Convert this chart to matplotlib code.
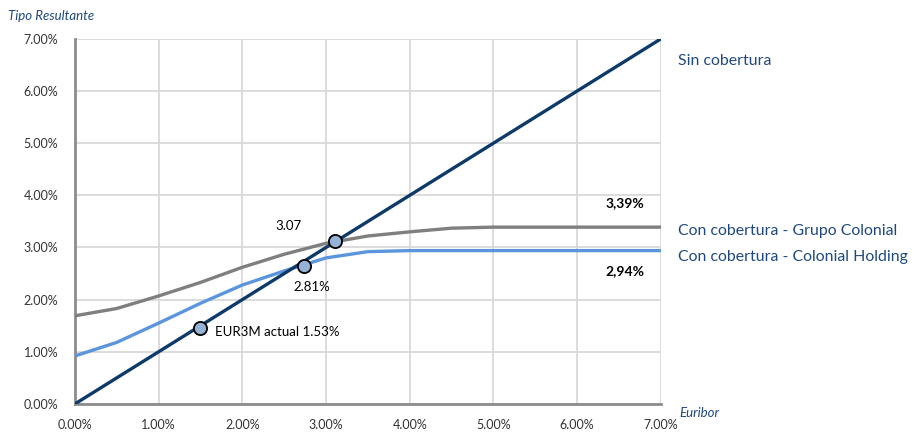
import matplotlib.pyplot as plt
from matplotlib.ticker import FuncFormatter

plt.rcParams['font.family'] = ['Lato', 'DejaVu Sans']

# Euribor (%) en el eje x
euribor = [0, 0.5, 1, 1.5, 2, 2.5, 3, 3.5, 4, 4.5, 5, 5.5, 6, 6.5, 7]
sin_cobertura = [0, 0.5, 1, 1.5, 2, 2.5, 3, 3.5, 4, 4.5, 5, 5.5, 6, 6.5, 7]
grupo_colonial = [1.69, 1.83, 2.07, 2.33, 2.62, 2.87, 3.08, 3.22, 3.30, 3.37,
                  3.39, 3.39, 3.39, 3.39, 3.39]
colonial_holding = [0.92, 1.18, 1.55, 1.93, 2.28, 2.55, 2.80, 2.92, 2.94, 2.94,
                    2.94, 2.94, 2.94, 2.94, 2.94]

# puntos marcados
punto_x = [1.49, 2.74, 3.11]
punto_y = [1.45, 2.65, 3.13]

navy = '#0D3A68'
gris = '#7F7F7F'
azul = '#5B95DB'
texto = '#1F497D'

fig = plt.figure(figsize=(9.14, 4.32), dpi=100)
ax = fig.add_axes([0.082, 0.065, 0.641, 0.845])

ax.plot(euribor, grupo_colonial, color=gris, lw=2.4, zorder=3)
ax.plot(euribor, colonial_holding, color=azul, lw=2.4, zorder=3)
ax.plot(euribor, sin_cobertura, color=navy, lw=2.4, zorder=4)
ax.scatter(punto_x, punto_y, s=90, facecolor='#95B3D7', edgecolor='black',
           linewidth=1.3, zorder=5)

ax.set_xlim(0, 7)
ax.set_ylim(0, 7)
ax.set_xticks(range(8))
ax.set_yticks(range(8))
fmt = FuncFormatter(lambda v, p: '%.2f%%' % v)
ax.xaxis.set_major_formatter(fmt)
ax.yaxis.set_major_formatter(fmt)
ax.tick_params(labelsize=9, length=0, colors='#333333')
ax.tick_params(axis='x', pad=11)
ax.tick_params(axis='y', pad=12)
ax.grid(True, color='#D9D9D9', lw=1.3)
ax.set_axisbelow(True)
for s in ['top', 'right']:
    ax.spines[s].set_visible(False)
for s in ['left', 'bottom']:
    ax.spines[s].set_color('#8C8C8C')
    ax.spines[s].set_linewidth(2)

ax.text(2.55, 3.42, '3.07', fontsize=9.5, ha='center', va='center')
ax.text(2.83, 2.24, '2.81%', fontsize=9.5, ha='center', va='center')
ax.text(1.67, 1.37, 'EUR3M actual 1.53%', fontsize=9.5, ha='left', va='center')
ax.text(6.57, 3.85, '3,39%', fontsize=10, fontweight='bold', ha='center', va='center')
ax.text(6.57, 2.55, '2,94%', fontsize=10, fontweight='bold', ha='center', va='center')

fig.text(0.009, 0.963, 'Tipo Resultante', fontsize=9.5, style='italic',
         color=texto, ha='left', va='center')
fig.text(0.743, 0.044, 'Euribor', fontsize=9.5, style='italic',
         color=texto, ha='left', va='center')
fig.text(0.742, 0.859, 'Sin cobertura', fontsize=11.4, color=texto, va='center')
fig.text(0.742, 0.465, 'Con cobertura - Grupo Colonial', fontsize=11.4,
         color=texto, va='center')
fig.text(0.742, 0.405, 'Con cobertura - Colonial Holding', fontsize=11.4,
         color=texto, va='center')

fig.savefig('out.png', dpi=100)
